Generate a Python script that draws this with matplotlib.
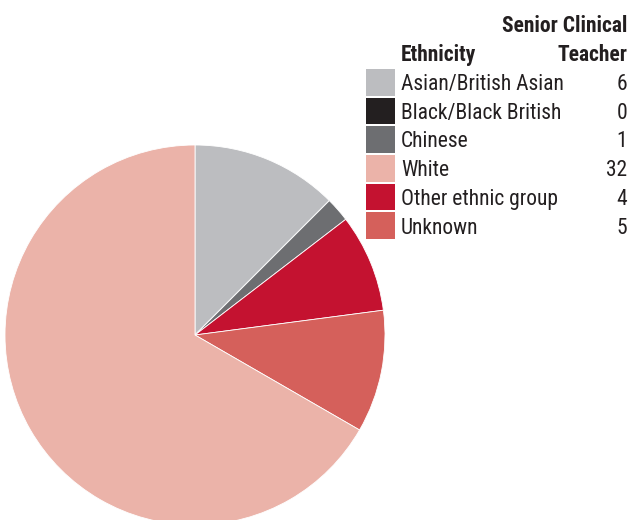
import matplotlib.pyplot as plt
from matplotlib.patches import Rectangle
from matplotlib import font_manager

names = {f.name for f in font_manager.fontManager.ttflist}
if 'Roboto Condensed' in names:
    plt.rcParams['font.family'] = ['Roboto Condensed', 'DejaVu Sans']
    stretch = 'normal'
else:
    plt.rcParams['font.family'] = ['DejaVu Sans']
    stretch = 'condensed'

# legend order
categories = ['Asian/British Asian', 'Black/Black British', 'Chinese', 'White',
              'Other ethnic group', 'Unknown']
values = [6, 0, 1, 32, 4, 5]
colors = ['#BCBDC0', '#231F20', '#6D6E71', '#EBB3A9', '#C41230', '#D5605B']
# order of slices around the pie (clockwise from top)
pie_order = ['Asian/British Asian', 'Black/Black British', 'Chinese',
             'Other ethnic group', 'Unknown', 'White']

W, H = 630, 520
fig = plt.figure(figsize=(W / 100, H / 100), dpi=100)

# pie axes: centre (195, 335) px, radius 190 px
cx, cy, r = 195, 335, 190
ax = fig.add_axes([(cx - r) / W, (H - cy - r) / H, 2 * r / W, 2 * r / H])
idx = [categories.index(c) for c in pie_order]
ax.pie([values[i] for i in idx], colors=[colors[i] for i in idx],
       startangle=90, counterclock=False, radius=1,
       wedgeprops=dict(edgecolor='white', linewidth=0.6))
ax.set_xlim(-1, 1)
ax.set_ylim(-1, 1)
ax.axis('off')

def fx(px):
    return px / W

def fy(py):
    return 1 - py / H

fs = 15.5
txt = dict(fontsize=fs, color='#231F20', fontstretch=stretch)
fig.text(fx(627), fy(32), 'Senior Clinical', ha='right', va='baseline',
         fontweight='bold', **txt)
fig.text(fx(627), fy(61), 'Teacher', ha='right', va='baseline',
         fontweight='bold', **txt)
fig.text(fx(401), fy(61), 'Ethnicity', ha='left', va='baseline',
         fontweight='bold', **txt)

row_top = 69
row_h = 28.7
box_h = 26.5
for i, (cat, val, col) in enumerate(zip(categories, values, colors)):
    top = row_top + i * row_h
    fig.add_artist(Rectangle((fx(366), fy(top + box_h)), fx(395) - fx(366),
                             box_h / H, transform=fig.transFigure,
                             facecolor=col, edgecolor='none'))
    base = top + 21
    fig.text(fx(401), fy(base), cat, ha='left', va='baseline', **txt)
    fig.text(fx(627), fy(base), str(val), ha='right', va='baseline', **txt)

fig.savefig('out.png', dpi=100)
